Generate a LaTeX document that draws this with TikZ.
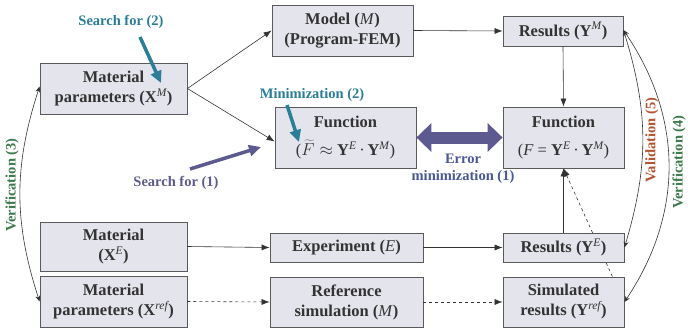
\documentclass[tikz,border=0pt]{standalone}
\usepackage{fontspec}
\setmainfont{Liberation Serif}
\usetikzlibrary{arrows.meta,backgrounds}

\definecolor{boxfill}{HTML}{E4E4EC}
\definecolor{boxline}{HTML}{5A5A5A}
\definecolor{textgray}{HTML}{333333}
\definecolor{tealnote}{HTML}{2A7E98}
\definecolor{purplenote}{HTML}{5C5A8E}
\definecolor{bluenote}{HTML}{4A5896}
\definecolor{rednote}{HTML}{B4532F}
\definecolor{greennote}{HTML}{3D7A4C}

% bold vector with an italic superscript
\newcommand{\vecsup}[2]{\textbf{#1}\textsuperscript{\normalfont\itshape #2}}

\begin{document}
\begin{tikzpicture}[x=1pt, y=-1pt,
    font=\fontsize{16.5}{20}\selectfont\bfseries,
    box/.style={draw=boxline, fill=boxfill, line width=0.8pt, align=center,
                inner sep=0pt, text=textgray},
    link/.style={-{Latex[length=8pt,width=6pt]}, line width=0.6pt, draw=textgray},
    note/.style={font=\fontsize{14.5}{17}\selectfont\bfseries, align=center},
    hint/.style={line width=3.5pt, -{Triangle[length=12pt,width=11pt]}},
    loop/.style={{Stealth[length=6pt,width=5pt]}-{Stealth[length=6pt,width=5pt]},
                 line width=0.6pt, draw=textgray}]
        \useasboundingbox (0,0) rectangle (688,329);

        % 1. Boxes
        \node[box, minimum width=147pt, minimum height=51pt] (matM) at (113.5, 88.5)
            {Material\\parameters (\vecsup{X}{M})};
        \node[box, minimum width=141pt, minimum height=51pt] (model) at (342.5, 30.5)
            {Model (\textit{\mdseries M})\\(Program-FEM)};
        \node[box, minimum width=120pt, minimum height=30pt] (resM) at (563, 31)
            {Results (\vecsup{Y}{M})};
        \node[box, minimum width=141pt, minimum height=61pt] (funL) at (345.5, 137.5)
            {Function\\[8pt]\mdseries($\widetilde{F}\approx$ \vecsup{Y}{E}\,·\,\vecsup{Y}{M})};
        \node[box, minimum width=121pt, minimum height=61pt] (funR) at (563.5, 137.5)
            {Function\\[8pt]\mdseries(\textit{F} = \vecsup{Y}{E}\,·\,\vecsup{Y}{M})};
        \node[box, minimum width=147pt, minimum height=49pt] (matE) at (113.5, 246.5)
            {Material\\(\vecsup{X}{E})};
        \node[box, minimum width=147pt, minimum height=51pt] (matRef) at (113.5, 301.5)
            {Material\\parameters (\vecsup{X}{ref})};
        \node[box, minimum width=153pt, minimum height=29pt] (expt) at (346.5, 247.5)
            {Experiment (\textit{\mdseries E})};
        \node[box, minimum width=153pt, minimum height=50pt] (refSim) at (346.5, 302)
            {Reference\\simulation (\textit{\mdseries M})};
        \node[box, minimum width=121pt, minimum height=29pt] (resE) at (563.5, 247.5)
            {Results (\vecsup{Y}{E})};
        \node[box, minimum width=121pt, minimum height=50pt] (simRes) at (563.5, 302)
            {Simulated\\results (\vecsup{Y}{ref})};

        % 2. Connectors
        \draw[link] (matM.east) -- (model.west);
        \draw[link] (matM.east) -- ([yshift=-4pt]funL.west);
        \draw[link] (model.east) -- (resM.west);
        \draw[link] (resM.south) -- (funR.north);
        \draw[link] (resE.north) -- (funR.south);
        \draw[link] (matE.east) -- (expt.west);
        \draw[link] (expt.east) -- (resE.west);
        \draw[link, dashed] (matRef.east) -- (refSim.west);
        \draw[link, dashed] (refSim.east) -- (simRes.west);
        \begin{pgfonlayer}{background}
            \draw[link, dashed] ([xshift=-12pt]simRes.north east) -- (funR.south);
        \end{pgfonlayer}

        % 3. Error minimization arrow
        \draw[purplenote, line width=12pt,
              {Triangle[length=15pt,width=28pt]}-{Triangle[length=15pt,width=28pt]}]
            (funL.east) -- (funR.west);
        \node[note, text=bluenote] (errMin) at (463, 169) {Error\\minimization (1)};

        % 4. Search hints
        \node[note, text=tealnote] (search2) at (121, 22) {Search for (2)};
        \coordinate (s2a) at (140, 37);
        \coordinate (s2b) at (161, 83);
        \draw[hint, tealnote] (s2a) -- (s2b);

        \node[note, text=purplenote] (search1) at (176, 183) {Search for (1)};
        \coordinate (s1a) at (190, 169);
        \coordinate (s1b) at (261, 147);
        \draw[hint, purplenote] (s1a) -- (s1b);

        \node[note, text=tealnote] (mini2) at (312, 95) {Minimization (2)};
        \coordinate (m2a) at (287, 105);
        \coordinate (m2b) at (299, 142);
        \draw[hint, tealnote] (m2a) -- (m2b);

        % 5. Verification / validation loops
        \draw[loop] ([yshift=2pt]matM.west) to[bend right=18] (matRef.west);
        \node[note, text=greennote, rotate=90] (verif3) at (12, 185) {Verification (3)};

        \draw[loop] ([yshift=1pt]resM.east) to[bend left=17] (resE.east);
        \draw[loop] ([yshift=1pt]resM.east) to[bend left=34] (simRes.east);
        \node[note, text=rednote, rotate=90] (valid5) at (652, 140) {Validation (5)};
        \node[note, text=greennote, rotate=90] (verif4) at (679, 162) {Verification (4)};
\end{tikzpicture}
\end{document}
